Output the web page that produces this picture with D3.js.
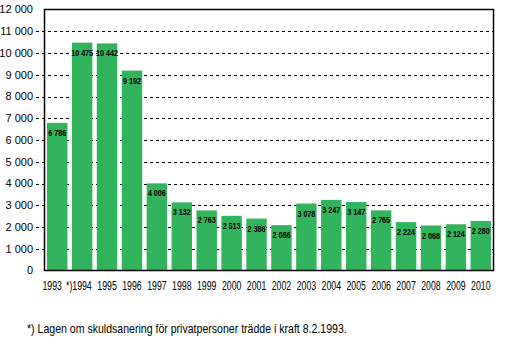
<!DOCTYPE html>
<html>
<head>
<meta charset="utf-8">
<script src="https://cdn.jsdelivr.net/npm/d3@7"></script>
<style>
  body { margin: 0; background: #fff; }
  svg { display: block; }
</style>
</head>
<body>
<svg id="chart" width="519" height="355"></svg>
<script>
const years = ['1993', '*)1994', '1995', '1996', '1997', '1998', '1999', '2000', '2001',
               '2002', '2003', '2004', '2005', '2006', '2007', '2008', '2009', '2010'];
const counts = [6786, 10475, 10442, 9192, 4006, 3132, 2763, 2513, 2386,
                2086, 3078, 3247, 3147, 2765, 2224, 2068, 2124, 2280];
const yTicks = [0, 1000, 2000, 3000, 4000, 5000, 6000, 7000, 8000, 9000, 10000, 11000, 12000];
const footnote = '*) Lagen om skuldsanering för privatpersoner trädde i kraft 8.2.1993.';

const svg = d3.select('#chart');
const plotL = 44.5, plotR = 493.5, plotT = 9.5, plotB = 270.5;
const font = '"Liberation Sans", Arial, sans-serif';

const fmt = v => d3.format(',')(v).replace(/,/g, ' ');

const x = d3.scaleBand()
    .domain(years)
    .range([plotL, plotR])
    .paddingInner(0.18)
    .paddingOuter(0.1);

const y = d3.scaleLinear()
    .domain([0, 12000])
    .range([plotB, plotT]);

// gridlines
svg.append('g')
    .selectAll('line')
    .data(yTicks.filter(d => d > 0 && d < 12000))
    .join('line')
    .attr('x1', 36)
    .attr('x2', plotR)
    .attr('y1', d => Math.round(y(d)) + 0.5)
    .attr('y2', d => Math.round(y(d)) + 0.5)
    .attr('stroke', '#000')
    .attr('stroke-dasharray', '3,3');

// bars
svg.append('g')
    .selectAll('rect')
    .data(counts)
    .join('rect')
    .attr('x', (d, i) => x(years[i]))
    .attr('width', x.bandwidth())
    .attr('y', d => y(d))
    .attr('height', d => plotB - y(d))
    .attr('fill', '#31b45b');

// value labels (condensed)
svg.append('g')
    .selectAll('text')
    .data(counts)
    .join('text')
    .attr('transform', (d, i) => `translate(${x(years[i]) + x.bandwidth() / 2},${y(d) + 13}) scale(0.8,1)`)
    .attr('text-anchor', 'middle')
    .attr('font-family', font)
    .attr('font-weight', 'bold')
    .attr('font-size', '9px')
    .attr('fill', '#000')
    .text(d => fmt(d));

// frame
svg.append('rect')
    .attr('x', plotL)
    .attr('y', plotT)
    .attr('width', plotR - plotL)
    .attr('height', plotB - plotT)
    .attr('fill', 'none')
    .attr('stroke', '#000')
    .attr('stroke-width', 1.5);

// y labels
svg.append('g')
    .selectAll('text')
    .data(yTicks)
    .join('text')
    .attr('x', 33)
    .attr('y', d => y(d))
    .attr('dy', '0.35em')
    .attr('text-anchor', 'end')
    .attr('font-family', font)
    .attr('font-size', '11px')
    .attr('fill', '#000')
    .text(d => fmt(d));

// x labels (condensed); the *) prefix hangs left of the year, 1993 makes room
const sx = 0.7;
const half = 9.6;
svg.append('g')
    .selectAll('text')
    .data(years)
    .join('text')
    .attr('transform', d => `translate(${x(d) + x.bandwidth() / 2},290) scale(${sx},1)`)
    .attr('x', (d, i) => d.startsWith('*') ? half / sx : (i === 0 ? -5 / sx : 0))
    .attr('text-anchor', d => d.startsWith('*') ? 'end' : 'middle')
    .attr('font-family', font)
    .attr('font-size', '12.5px')
    .attr('fill', '#000')
    .text(d => d);

svg.append('text')
    .attr('transform', 'translate(27,333) scale(0.88,1)')
    .attr('font-family', font)
    .attr('font-size', '12px')
    .attr('fill', '#000')
    .text(footnote);
</script>
</body>
</html>
